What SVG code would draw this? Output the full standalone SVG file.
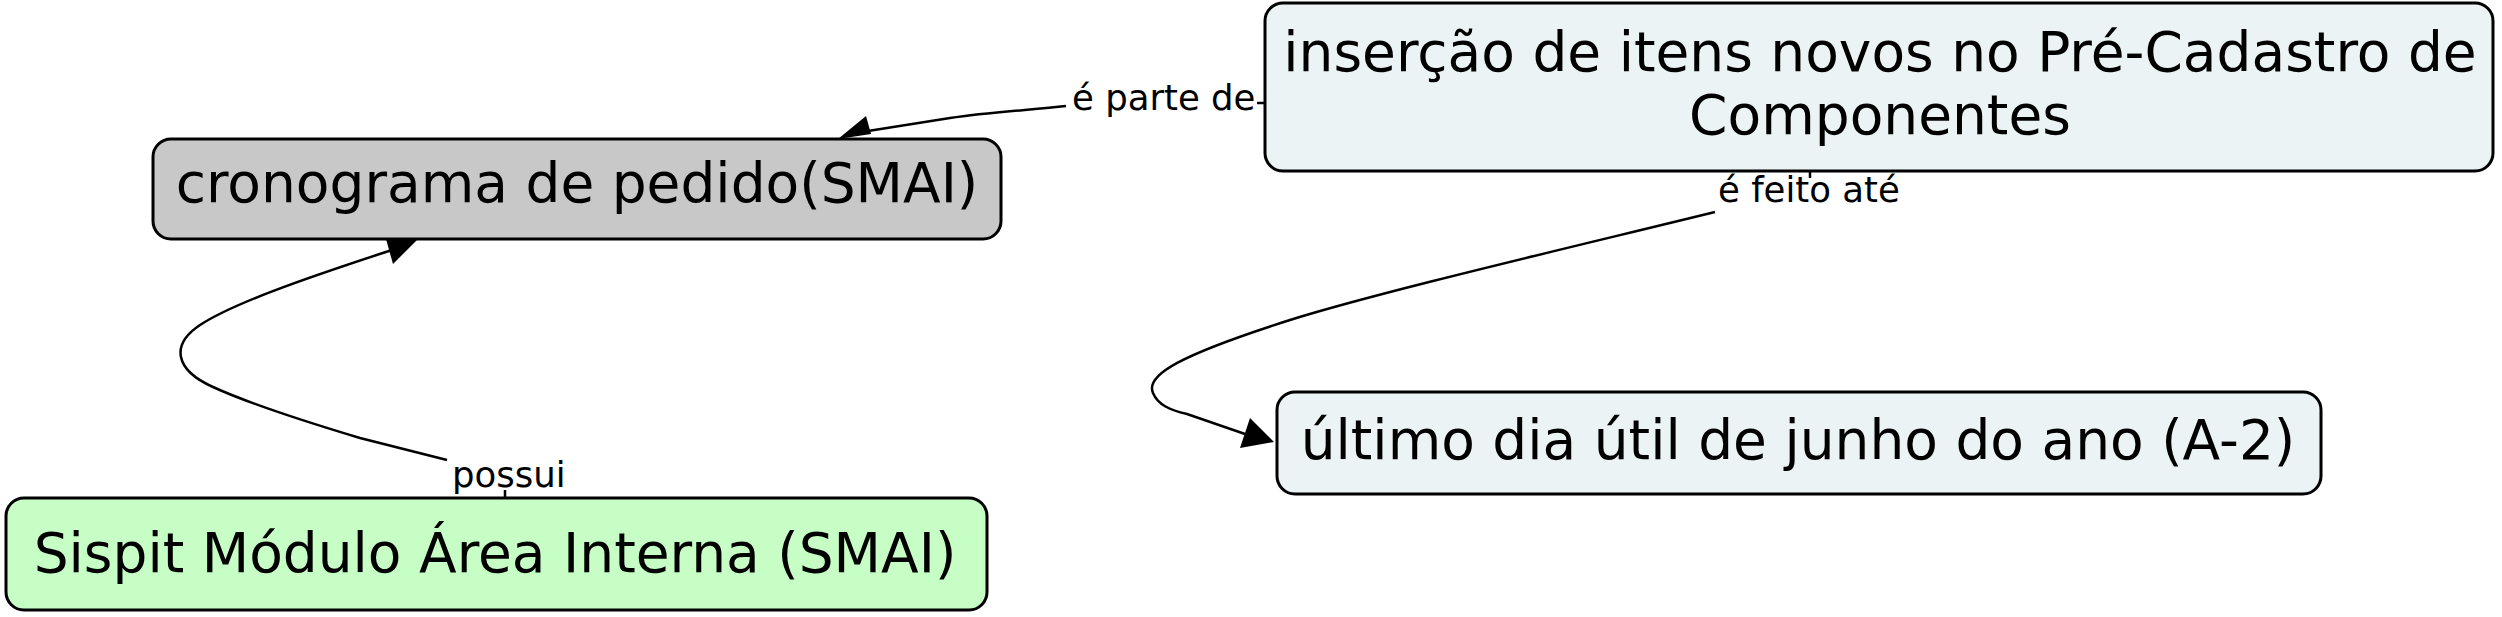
<svg xmlns="http://www.w3.org/2000/svg" width="2502" height="617" viewBox="0 0 2502 617">
<style>
.node rect{stroke:#000;stroke-width:3}
.nt{font-family:"DejaVu Sans",Verdana,sans-serif;font-size:55px;fill:#000;text-anchor:middle}
.lt{font-family:"DejaVu Sans",Verdana,sans-serif;font-size:35.5px;fill:#000}
.conn path{fill:none;stroke:#000;stroke-width:2.5}
.conn polygon{fill:#000;stroke:none}
</style>
<rect width="2502" height="617" fill="#fff"/>
<g id="connectors" class="conn">
<path d="M1066,106 C1030,110 990,112 950,118 L868,131"/>
<path d="M1257,103 L1266,103"/>
<polygon points="838,139 866,116 871,134"/>
<path d="M447,460 L360,438 C300,420 250,404 213,387 C175,370 170,345 200,325 C232,304 300,280 392,250"/>
<path d="M505,490 L505,498"/>
<polygon points="386,239 420,237 393,264"/>
<path d="M1715,212 C1560,250 1380,292 1290,320 C1180,355 1145,375 1153,393 C1158,405 1170,410 1187,414 L1245,434"/>
<path d="M1810,172 L1810,178"/>
<polygon points="1274,442 1250,418 1240,448"/>
</g>
<g id="label-e-parte-de"><text class="lt" x="1072" y="110">é parte de</text></g>
<g id="label-e-feito-ate"><text class="lt" x="1718" y="202">é feito até</text></g>
<g id="label-possui"><text class="lt" x="452" y="487">possui</text></g>
<g id="node-insercao" class="node">
<rect x="1265" y="3" width="1228" height="168" rx="18" fill="#ebf3f5"/>
<text class="nt" x="1880" y="71">inserção de itens novos no Pré-Cadastro de</text>
<text class="nt" x="1880" y="134">Componentes</text>
</g>
<g id="node-cronograma" class="node">
<rect x="153" y="139" width="848" height="100" rx="18" fill="#c8c8c8"/>
<text class="nt" x="577" y="202">cronograma de pedido(SMAI)</text>
</g>
<g id="node-ultimo" class="node">
<rect x="1277" y="392" width="1044" height="102" rx="18" fill="#ebf3f5"/>
<text class="nt" x="1798" y="459">último dia útil de junho do ano (A-2)</text>
</g>
<g id="node-sispit" class="node">
<rect x="6" y="498" width="981" height="112" rx="18" fill="#c6fec6"/>
<text class="nt" x="495" y="572">Sispit Módulo Área Interna (SMAI)</text>
</g>
</svg>
